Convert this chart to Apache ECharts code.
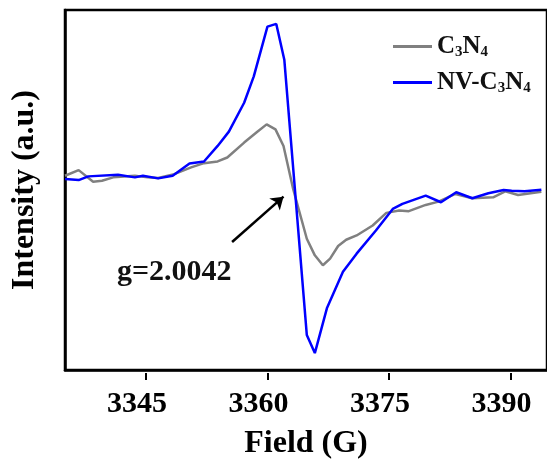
<!DOCTYPE html>
<html>
<head>
<meta charset="utf-8">
<script src="https://cdn.jsdelivr.net/npm/echarts@6/dist/echarts.min.js"></script>
<style>html,body{margin:0;padding:0;background:#fff;}#c{width:547px;height:465px;}</style>
</head>
<body>
<div id="c"></div>
<script>
const xTicks = [3345, 3360, 3375, 3390];
const seriesNames = ['C3N4', 'NV-C3N4'];
const fieldC3N4 = [3335.0,3336.7,3338.5,3339.6,3341.0,3343.7,3345.3,3346.6,3348.6,3350.7,3352.3,3354.0,3355.2,3357.3,3358.9,3360.1,3361.2,3362.2,3363.4,3365.1,3366.1,3367.1,3368.0,3369.0,3370.0,3371.3,3373.3,3375.0,3376.6,3377.8,3379.9,3381.5,3383.6,3385.7,3388.3,3389.8,3391.4,3394.3];
const intC3N4 = [13.3,19,7.3,8.3,11.7,13.3,11.7,11,15,21.7,26,27.7,31.7,46.7,57.3,65,60,43.3,0,-50,-66.7,-76.7,-70,-57.3,-51,-46.7,-36.7,-24,-21.7,-22.3,-16,-12.7,-5,-9.3,-8.3,-2.3,-6,-2.7];
const fieldNV = [3335.0,3336.7,3337.9,3341.6,3343.7,3344.7,3346.6,3348.4,3350.5,3352.3,3354.0,3355.4,3357.3,3358.5,3360.2,3361.3,3362.3,3365.1,3366.1,3367.6,3369.6,3371.3,3373.7,3375.8,3377.0,3379.9,3381.8,3383.7,3385.7,3387.7,3389.6,3390.6,3392.2,3394.3];
const intNV = [10,9,12.7,14.3,11.7,13.3,10.7,13.3,25.7,27.7,43.3,57.7,86.7,113.3,163.3,166,130,-146.7,-165,-120,-83.3,-65,-41.7,-20,-15,-6.7,-13.3,-3.3,-9.3,-4.3,-1,-1.7,-2.3,-0.7];
const annotText = 'g=2.0042';
const arrowFrom = [3355.8, -53.3];
const arrowTo = [3362.2, -7.7];
const annotPos = [3348.6, -84];

const xMin = 3335, xMax = 3395;
const zip = (a, b) => a.map((v, i) => [v, b[i]]);
const serif = '"Liberation Serif","Times New Roman",serif';
const fmtName = n => n.replace(/(\d)/g, '{s|$1}').replace(/([A-Z\-]+)/g, '{b|$1}');

const W = 547, gLeft = 65, gRight = -4;
const pxPerG = (W - gLeft - gRight) / (xMax - xMin);
const tickStep = xTicks[1] - xTicks[0];
// second grid aligned to the same scale, spanning exactly the tick range
const g2Left = gLeft + (xTicks[0] - xMin) * pxPerG;
const g2Right = W - (gLeft + (xTicks[xTicks.length - 1] - xMin) * pxPerG);

const chart = echarts.init(document.getElementById('c'), null, {renderer: 'canvas'});
chart.setOption({
  animation: false,
  backgroundColor: '#fff',
  grid: [
    {left: gLeft, right: gRight, top: 10, bottom: 92, show: true, borderColor: '#000', borderWidth: 2.5, backgroundColor: 'transparent'},
    {left: g2Left, right: g2Right, top: 10, bottom: 92, show: false}
  ],
  xAxis: [{
    gridIndex: 0, type: 'value', min: xMin, max: xMax,
    axisLine: {show: true, onZero: false, lineStyle: {color: '#000', width: 2.5}},
    axisTick: {show: false}, axisLabel: {show: false}, splitLine: {show: false},
    name: 'Field (G)', nameLocation: 'middle', nameGap: 58,
    nameTextStyle: {color: '#000', fontFamily: serif, fontWeight: 'bold', fontSize: 32}
  }, {
    gridIndex: 1, type: 'value', min: xTicks[0], max: xTicks[xTicks.length - 1], interval: tickStep,
    axisLine: {show: false, onZero: false},
    axisTick: {show: true, inside: false, length: 7, lineStyle: {color: '#000', width: 2}},
    axisLabel: {color: '#000', fontFamily: serif, fontWeight: 'bold', fontSize: 30, margin: 16, padding: [0, 18, 0, 0],
      showMinLabel: true, showMaxLabel: true, formatter: v => String(v)},
    splitLine: {show: false}
  }],
  yAxis: [{
    gridIndex: 0, type: 'value', min: -182, max: 180,
    axisLine: {show: true, onZero: false, lineStyle: {color: '#000', width: 2.5}},
    axisTick: {show: false}, axisLabel: {show: false}, splitLine: {show: false},
    name: 'Intensity (a.u.)', nameLocation: 'middle', nameGap: 24,
    nameTextStyle: {color: '#000', fontFamily: serif, fontWeight: 'bold', fontSize: 32}
  }, {
    gridIndex: 1, type: 'value', min: 0, max: 1, show: false
  }],
  legend: {
    orient: 'vertical', left: 388, top: 29, itemWidth: 39, itemHeight: 3, itemGap: 10,
    icon: 'rect',
    data: seriesNames,
    formatter: fmtName,
    textStyle: {
      color: '#000', fontFamily: serif, fontWeight: 'bold', fontSize: 25, padding: [0, 0, 0, 0],
      rich: {
        b: {fontFamily: serif, fontWeight: 'bold', fontSize: 25, color: '#111'},
        s: {fontFamily: serif, fontWeight: 'bold', fontSize: 15, color: '#111', padding: [12, 0, 0, 0]}
      }
    }
  },
  series: [{
    name: seriesNames[0], type: 'line', xAxisIndex: 0, yAxisIndex: 0, data: zip(fieldC3N4, intC3N4),
    showSymbol: false, symbol: 'none', lineStyle: {color: '#808080', width: 2.5}, itemStyle: {color: '#808080'}
  }, {
    name: seriesNames[1], type: 'line', xAxisIndex: 0, yAxisIndex: 0, data: zip(fieldNV, intNV),
    showSymbol: false, symbol: 'none', lineStyle: {color: '#0000ff', width: 2.5}, itemStyle: {color: '#0000ff'},
    markLine: {
      silent: true, symbol: ['none', 'arrow'], symbolSize: 12,
      lineStyle: {color: '#000', width: 2.5, type: 'solid'}, label: {show: false},
      data: [[{coord: arrowFrom}, {coord: arrowTo}]]
    },
    markPoint: {
      silent: true, symbol: 'circle', symbolSize: 0,
      label: {show: true, position: 'inside', formatter: annotText, color: '#111', fontFamily: serif, fontWeight: 'bold', fontSize: 30},
      data: [{coord: annotPos}]
    }
  }]
});
</script>
</body>
</html>
